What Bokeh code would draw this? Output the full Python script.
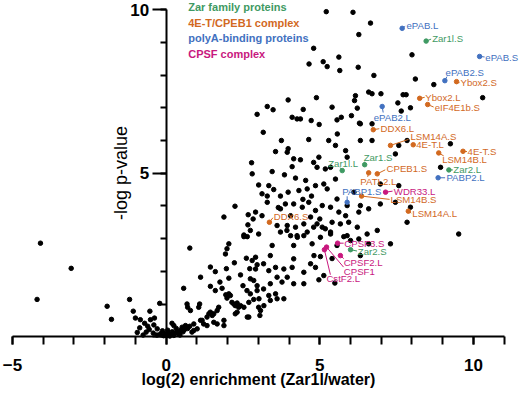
from bokeh.plotting import figure
from bokeh.models import ColumnDataSource, Range1d, SingleIntervalTicker
from bokeh.core.properties import value
from bokeh.embed import file_html
from bokeh.resources import INLINE

# ---------------- data ----------------
bg_x = [
    -4.09, -3.09, -4.20, -1.19, -0.21, -1.92, -1.78, -1.07, -1.00, -0.84, -0.70, -0.51, -0.38, -0.53,
    -0.94, -0.86, -0.65, -0.42, -0.29, -0.18, -0.02, -0.40, -0.75, -0.55, -0.30, -0.12, -0.60,
    0.77, 2.04, 1.98, 1.93, 2.53, 1.12, 0.57, 1.44, 1.60, 1.96, 2.04, 2.22, 2.42, 2.61, 2.72, 2.80,
    2.91, 2.96, 2.74, 2.85, 2.96, 1.44, 1.60, 1.75, 1.82, 2.50, 2.63, 2.96,
    1.94, 1.98, 2.04, 2.09, 2.14, 2.25, 2.31, 2.36, 2.74, 2.69, 2.85, 3.01, 2.69, 1.09, 1.06, 0.68,
    0.70, 0.79, 1.44, 1.50, 1.55, 1.66, 1.71, 1.33, 1.55, 1.66, 1.88, 1.88, 1.12, 1.22, 0.90, 1.01,
    0.19, 0.25, 0.36, 0.47, 0.52, 0.63, 0.84, 0.90, 1.17, 1.33, 1.39, 2.20, 2.25, 2.31, 2.42, 2.53, 2.64,
    0.03, 0.09, 0.14, 0.25, 0.30, 0.41, 0.55, 0.60, 0.05, -0.08, 0.12, 0.20, 0.33, 0.45, 0.70, 0.77,
    3.02, 3.56, 3.83, 3.39, 3.18, 3.07, 3.05, 3.34, 3.61,
    2.78, 2.80, 2.24, 1.88, 2.67, 2.83, 2.66, 2.74, 2.53, 3.01, 2.64,
    2.96, 3.29, 3.48, 3.16,
    3.75, 3.97, 3.94, 3.56, 4.15, 4.37, 4.64, 5.29, 5.51, 5.84, 4.97, 4.91, 5.18, 5.51, 4.21, 3.01,
    3.34, 3.12, 3.29, 3.50, 3.72, 3.97, 4.32, 4.59, 4.73, 4.86, 5.24, 5.13, 4.64, 4.43, 4.15, 3.88,
    3.72, 3.29, 2.91, 3.12, 4.86, 5.08, 5.35, 5.62, 5.84, 4.70, 4.48, 4.05, 3.94, 4.21, 3.61, 4.91,
    5.18, 5.40, 5.94, 3.72, 4.59, 5.08, 5.57, 4.54, 5.35, 4.80, 4.10, 3.45, 3.85, 4.45, 5.00, 3.65,
    6.32, 6.32, 6.70, 5.89, 7.46, 7.84, 7.57, 9.25, 8.93, 7.57, 6.97, 7.46, 6.11, 5.56, 5.89, 6.32,
    6.27, 6.59, 6.97, 7.95, 7.84, 9.52, 6.87, 6.22, 5.67, 5.02, 5.35, 5.89, 6.54, 7.30, 6.59, 6.27,
    6.00, 5.56, 4.75, 4.15, 4.26, 3.93, 4.80,
    4.05, 4.27, 4.48, 5.35, 5.78, 6.32, 5.02, 5.40, 5.13, 4.97, 5.49, 4.70, 4.81, 4.86, 4.48, 4.48,
    4.15, 4.10, 3.83, 3.94, 3.77, 3.45, 3.39, 3.17, 2.91, 3.34, 3.56, 3.61, 3.39, 4.15, 3.17,
    5.21, 6.08, 6.65, 6.27, 4.80, 5.62, 4.65, 5.11, 5.24, 5.65, 6.25, 6.76, 8.00, 8.11, 8.71, 10.30,
    3.97, 4.89, 6.59, 6.70, 6.99, 7.71, 7.81, 6.16, 6.13, 5.40, 4.46, 6.22, 7.54, 7.95, 7.65, 6.03,
    5.70, 4.10, 4.26, 4.37, 4.72, 4.98, 5.56, 6.29, 6.70,
]
bg_y = [
    2.86, 2.09, 1.14, 1.14, 1.02, 0.93, 0.53, 0.78, 0.57, 0.52, 0.41, 0.52, 0.57, 0.78,
    0.13, 0.27, 0.14, 0.11, 0.24, 0.09, 0.09, 0.36, 0.05, 0.22, 0.05, 0.18, 0.32,
    2.71, 2.84, 2.69, 2.53, 3.06, 1.82, 1.48, 2.13, 1.99, 2.08, 1.79, 2.26, 1.89, 2.40, 2.08, 2.33,
    2.43, 2.20, 1.77, 1.72, 1.56, 1.54, 1.41, 1.67, 1.48, 1.56, 1.41, 1.41,
    1.28, 1.18, 1.31, 1.26, 1.05, 0.95, 1.03, 0.90, 1.31, 1.05, 1.14, 0.90, 0.60, 1.00, 0.90, 1.00,
    0.90, 0.80, 0.75, 0.65, 0.70, 0.80, 0.90, 0.60, 0.44, 0.39, 0.50, 0.34, 0.50, 0.39, 0.39, 0.24,
    0.41, 0.34, 0.14, 0.19, 0.29, 0.34, 0.14, 0.19, 0.50, 0.34, 0.70, 1.00, 0.70, 0.75, 0.95, 0.90, 0.60,
    0.04, 0.09, 0.07, 0.04, 0.11, 0.09, 0.15, 0.22, 0.20, 0.03, 0.02, 0.15, 0.25, 0.05, 0.25, 0.32,
    1.16, 1.31, 1.16, 1.11, 0.95, 0.80, 0.65, 1.26, 1.16,
    5.32, 4.98, 3.99, 3.66, 3.73, 3.60, 3.42, 3.25, 3.11, 3.14, 3.06,
    6.80, 7.04, 6.94, 6.25,
    6.00, 5.75, 5.64, 5.66, 5.44, 5.41, 6.03, 6.00, 5.85, 5.69, 5.49, 5.18, 5.13, 4.82, 4.85, 4.64,
    4.62, 4.37, 4.30, 4.50, 4.30, 4.42, 4.47, 4.52, 4.30, 4.62, 4.52, 4.67, 4.11, 3.96, 4.06, 4.06,
    3.91, 4.11, 3.81, 3.70, 3.86, 4.01, 3.96, 3.81, 3.70, 3.66, 3.45, 3.70, 3.40, 3.35, 3.40, 3.45,
    3.30, 3.50, 3.50, 3.20, 3.20, 3.35, 6.20, 4.78, 5.18, 5.33, 5.20, 5.05, 4.95, 4.20, 3.60, 3.95,
    6.51, 6.00, 6.00, 5.49, 5.59, 6.00, 5.85, 5.90, 5.18, 4.62, 4.67, 4.11, 4.42, 4.21, 4.01, 4.01,
    3.81, 3.91, 4.06, 3.96, 3.50, 3.14, 3.25, 3.35, 3.45, 3.04, 3.14, 3.09, 3.14, 2.84, 2.84, 2.99,
    2.94, 2.79, 2.84, 2.79, 3.09, 3.25, 3.35,
    3.09, 3.04, 3.09, 3.20, 3.06, 2.48, 2.45, 2.39, 1.87, 1.74, 1.64, 2.23, 2.48, 2.12, 1.97, 1.62,
    2.38, 2.12, 2.07, 1.82, 1.67, 2.79, 2.48, 2.23, 2.07, 2.02, 2.12, 1.82, 1.62, 1.62, 1.46,
    9.94, 9.92, 9.59, 9.24, 8.82, 8.55, 8.34, 8.41, 8.26, 8.14, 8.24, 7.99, 8.62, 7.88, 7.71, 7.31,
    7.24, 7.31, 7.48, 7.43, 7.43, 7.40, 7.40, 7.37, 7.22, 7.02, 6.95, 6.99, 7.15, 7.00, 6.90, 6.76,
    6.71, 6.71, 6.66, 6.66, 6.61, 6.49, 6.63, 6.53, 6.51,
]

names = ["ePAB.L", "Zar1l.S", "ePAB.S", "ePAB2.S", "Ybox2.S", "Ybox2.L", "eIF4E1b.S", "ePAB2.L",
         "DDX6.L", "LSM14A.S", "4E-T.L", "4E-T.S", "LSM14B.L", "Zar2.L", "PABP2.L", "Zar1.S",
         "Zar1l.L", "CPEB1.S", "PATL2.L", "PABP1.S", "WDR33.L", "LSM14B.S", "LSM14A.L", "DDX6.S",
         "CPSF3.S", "Zar2.S", "CPSF2.L", "CPSF1", "CstF2.L"]
hit_x = [7.68, 8.46, 10.20, 9.07, 9.45, 8.25, 8.51, 7.03, 6.74, 7.30, 8.04, 9.66, 8.87, 9.20, 8.85,
         6.46, 5.73, 6.87, 6.59, 5.89, 7.14, 6.36, 7.88, 3.36, 5.58, 6.00, 5.67, 5.22, 5.15]
hit_y = [9.43, 9.04, 8.57, 7.83, 7.80, 7.29, 7.10, 7.04, 6.33, 5.85, 5.87, 5.67, 5.62, 5.10, 4.86,
         5.26, 5.08, 4.98, 5.01, 4.11, 4.42, 4.30, 3.84, 3.50, 2.86, 2.66, 2.48, 2.74, 2.66]
hit_group = ["pab", "zar", "pab", "pab", "cpeb", "cpeb", "cpeb", "pab", "cpeb", "cpeb", "cpeb", "cpeb",
             "cpeb", "zar", "pab", "zar", "zar", "cpeb", "cpeb", "pab", "cpsf", "cpeb", "cpeb", "cpeb",
             "cpsf", "zar", "cpsf", "cpsf", "cpsf"]

legend_texts = ["Zar family proteins", "4E-T/CPEB1 complex", "polyA-binding proteins", "CPSF complex"]
legend_groups = ["zar", "cpeb", "pab", "cpsf"]

# ---------------- styles / layout ----------------
COLORS = {"zar": "#3f9a63", "cpeb": "#d2691f", "pab": "#4271c0", "cpsf": "#c8187e"}
FONT = "Liberation Sans"
W, H = 520, 397
SX = 30.73                   # px per x unit
SY = 32.7                    # px per y unit
X0 = -5 - 12 / SX
X1 = X0 + W / SX
Y1 = 336.2 / SY
Y0 = Y1 - H / SY

# label offsets (px, screen: +x right, +y down) -> label left/middle, leader end
lab_dx = [4.3, 6, 5.7, 0.7, 4, 5.7, 7, -8.4, 7.3, 20, 3, 4.6, 3.4, 4.4, 8.3, -1, -14, 9.3, -8.3,
          -5, 8.3, 29, 4, 4.3, 6.7, 7.3, 3.3, 17.3, 2]
lab_dy = [-2.7, -3, 0.7, -8.3, 1, -1, 3.3, 11.3, -1, -9.3, 0, 0.3, 7, 0, 0, -7.5, -6.7, -5.6, 8.7,
          -11, -1, 3.3, 2.6, -5.7, 0, 1.4, 7.3, 24, 29]
end_dx = [3, 5, 5, 2, 3, 5, 6, 1, 6, 18, 2, 4, 5, 4, 7, 0, -2, 8, -1, 0, 7, 28, 3, 3.5, 6, 6.5, 3.3, 17, 6]
end_dy = [-2, -2, 0.5, -4, 1, -1, 2.5, 6, -1, -6, 0, 0.3, 3, 0, 0, -3, -3, -4, 4, -6, -1, 3.3, 2, -4.5, 0, 1.3, 3, 20, 25]

p = figure(width=W, height=H, x_range=Range1d(X0, X1), y_range=Range1d(Y0, Y1),
           output_backend="svg", toolbar_location=None,
           min_border_left=0, min_border_right=0, min_border_top=0, min_border_bottom=0)
p.outline_line_color = None
p.grid.visible = False
p.background_fill_color = "white"

# background proteins
p.scatter(bg_x, bg_y, size=4.5, color="black")

# leader lines
seg = ColumnDataSource(dict(
    x0=hit_x, y0=hit_y,
    x1=[x + d / SX for x, d in zip(hit_x, end_dx)],
    y1=[y - d / SY for y, d in zip(hit_y, end_dy)],
    c=[COLORS[g] for g in hit_group]))
p.segment("x0", "y0", "x1", "y1", source=seg, line_color="c", line_width=1)

hits = ColumnDataSource(dict(x=hit_x, y=hit_y, c=[COLORS[g] for g in hit_group]))
p.scatter("x", "y", source=hits, size=4.5, color="c")

labs = ColumnDataSource(dict(
    x=[x + d / SX for x, d in zip(hit_x, lab_dx)],
    y=[y - d / SY for y, d in zip(hit_y, lab_dy)],
    t=names, c=[COLORS[g] for g in hit_group]))
p.text("x", "y", text="t", source=labs, text_color="c", text_font=value(FONT),
       text_font_size="9.6px", text_baseline="middle", text_align="left")

# legend (text only)
leg_px_x = 187.7
leg_px_y = [6.5, 22, 37.5, 53.3]
leg = ColumnDataSource(dict(
    x=[X0 + leg_px_x / SX] * 4,
    y=[Y1 - v / SY for v in leg_px_y],
    t=legend_texts, c=[COLORS[g] for g in legend_groups]))
p.text("x", "y", text="t", source=leg, text_color="c", text_font=value(FONT),
       text_font_size="11px", text_font_style="bold", text_baseline="middle", text_align="left")

# axes crossing at origin
p.xaxis.fixed_location = 0
p.yaxis.fixed_location = 0
p.xaxis.bounds = (-5, 11)
p.yaxis.bounds = (0, 10)
p.xaxis.ticker = SingleIntervalTicker(interval=5, num_minor_ticks=5)
p.yaxis.ticker = SingleIntervalTicker(interval=5, num_minor_ticks=5)
p.yaxis.major_label_overrides = {0: ""}
for ax in (p.xaxis, p.yaxis):
    ax.axis_line_width = 2
    ax.major_tick_line_width = 2
    ax.minor_tick_line_width = 2
    ax.major_tick_in = 0
    ax.minor_tick_in = 0
    ax.major_label_text_font = FONT
    ax.major_label_text_font_style = "bold"
    ax.major_label_text_font_size = "17px"
    ax.major_label_text_color = "black"
    ax.axis_label_text_font = FONT
    ax.axis_label_text_color = "black"
p.xaxis.major_tick_out = 8
p.xaxis.minor_tick_out = 8
p.xaxis.major_label_standoff = 14
p.xaxis.axis_label = "log(2) enrichment (Zar1l/water)"
p.xaxis.axis_label_text_font_style = "bold"
p.xaxis.axis_label_text_font_size = "16px"
p.xaxis.axis_label_standoff = -3
p.yaxis.major_tick_out = 14
p.yaxis.minor_tick_out = 6
p.yaxis.major_label_standoff = 3
p.yaxis.axis_label = "-log p-value"
p.yaxis.axis_label_text_font_style = "normal"
p.yaxis.axis_label_text_font_size = "18px"
p.yaxis.axis_label_standoff = -3

open("out.html", "w").write(file_html(p, INLINE))
